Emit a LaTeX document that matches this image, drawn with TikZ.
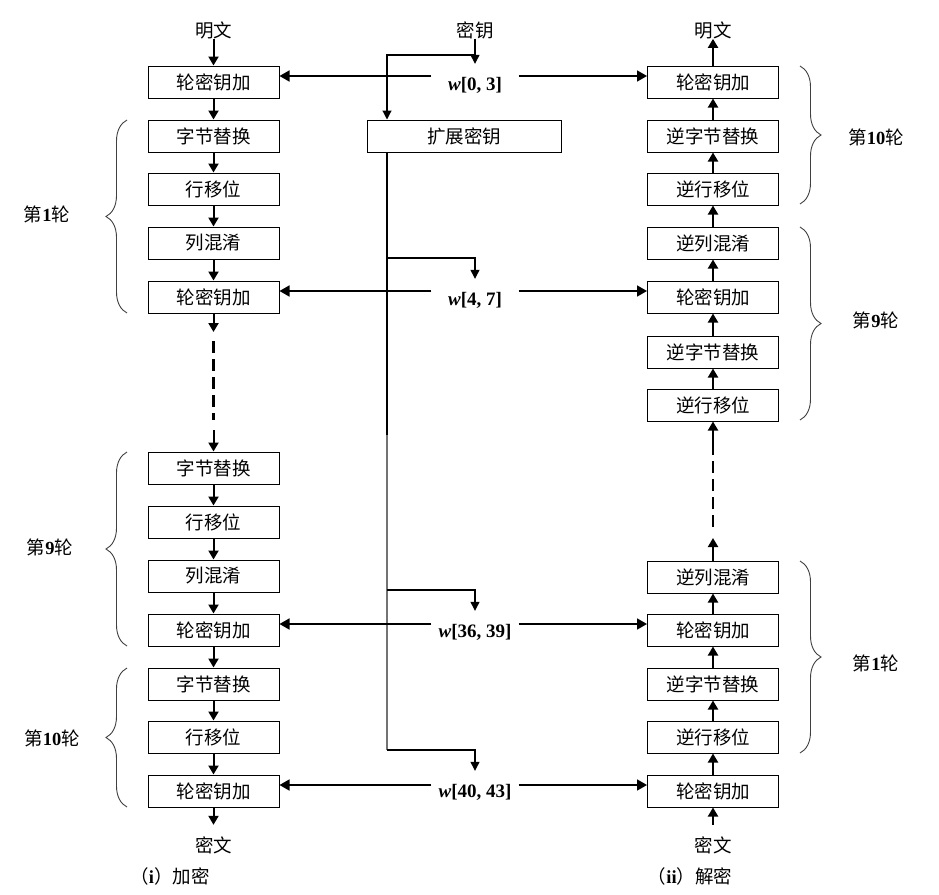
\documentclass[tikz,border=0pt]{standalone}
\usepackage{fontspec}
\setmainfont{Liberation Serif}
\newfontfamily\cjk{Noto Sans CJK SC}
\usepackage{tikz}
\usetikzlibrary{arrows.meta,positioning,decorations.pathreplacing}
\newcommand{\roundno}[1]{第{\rmfamily\bfseries #1}轮}
\newcommand{\wkey}[1]{\textbf{\textit{w}[#1]}}

\begin{document}
\begin{tikzpicture}[x=1pt, y=-1pt,
  stage/.style={draw, line width=1pt, minimum width=131pt, minimum height=32pt,
    inner sep=0pt, font=\cjk\fontsize{18.5}{20}\selectfont},
  io/.style={inner sep=0pt, minimum height=14pt, font=\cjk\fontsize{18.5}{20}\selectfont},
  wlabel/.style={minimum width=87pt, minimum height=42pt, inner sep=0pt,
    font=\fontsize{19}{20}\selectfont},
  roundlbl/.style={font=\cjk\fontsize{18.5}{20}\selectfont},
  flow/.style={-{Triangle[length=9pt,width=10pt]}, line width=2pt},
  feed/.style={-{Triangle[length=10pt,width=11pt]}, line width=1.7pt},
  keyline/.style={line width=1.2pt},
  keyarr/.style={keyline, -{Triangle[length=9pt,width=9pt]}},
  skip/.style={line width=2.6pt, dash pattern=on 12pt off 6pt},
  brc/.style={decorate, decoration={brace, amplitude=21pt}, line width=0.9pt, black!75}]
  \useasboundingbox (0,0) rectangle (939,894);

  % encryption column
  \node[io] (pl) at (213.5,30) {明文};
  \node[stage] (e1) at (213.5,82) {轮密钥加};
  \node[stage] (e2) at (213.5,136) {字节替换};
  \node[stage] (e3) at (213.5,189) {行移位};
  \node[stage] (e4) at (213.5,243) {列混淆};
  \node[stage] (e5) at (213.5,297) {轮密钥加};
  \node[stage] (e6) at (213.5,468) {字节替换};
  \node[stage] (e7) at (213.5,522) {行移位};
  \node[stage] (e8) at (213.5,576) {列混淆};
  \node[stage] (e9) at (213.5,630) {轮密钥加};
  \node[stage] (e10) at (213.5,684) {字节替换};
  \node[stage] (e11) at (213.5,737) {行移位};
  \node[stage] (e12) at (213.5,791) {轮密钥加};
  \node[io, minimum height=40pt] (cl) at (213.5,845) {密文};
  \node[io] (capl) at (170,876) {（{\rmfamily\bfseries i}）加密};

  % decryption column
  \node[io] (pr) at (713,30) {明文};
  \node[stage] (d1) at (713,82) {轮密钥加};
  \node[stage] (d2) at (713,136) {逆字节替换};
  \node[stage] (d3) at (713,189) {逆行移位};
  \node[stage] (d4) at (713,243) {逆列混淆};
  \node[stage] (d5) at (713,297) {轮密钥加};
  \node[stage] (d6) at (713,352) {逆字节替换};
  \node[stage] (d7) at (713,405) {逆行移位};
  \node[stage] (d8) at (713,577) {逆列混淆};
  \node[stage] (d9) at (713,630) {轮密钥加};
  \node[stage] (d10) at (713,684) {逆字节替换};
  \node[stage] (d11) at (713,737) {逆行移位};
  \node[stage] (d12) at (713,791) {轮密钥加};
  \node[io, minimum height=40pt] (cr) at (713,845) {密文};
  \node[io] (capr) at (690,876) {（{\rmfamily\bfseries ii}）解密};

  % key schedule
  \node[io] (key) at (475,30) {密钥};
  \node[stage, minimum width=194pt] (ex) at (464,136) {扩展密钥};
  \node[wlabel] (k0) at (475,85) {\wkey{0, 3}};
  \node[wlabel] (k1) at (475,300) {\wkey{4, 7}};
  \node[wlabel] (k2) at (475,632) {\wkey{36, 39}};
  \node[wlabel] (k3) at (475,792) {\wkey{40, 43}};

  \coordinate (split) at (475,55);
  \coordinate (bus) at (387,0);
  \coordinate (b1) at (387,258);
  \coordinate (busmid) at (387,435);
  \coordinate (b2) at (387,590);
  \coordinate (b3) at (387,750);
  \coordinate (r0) at (0,76);
  \coordinate (r1) at (0,291);
  \coordinate (r2) at (0,624);
  \coordinate (r3) at (0,785);
  \coordinate (gl1) at (213.5,332);
  \coordinate (gl2) at (213.5,341);
  \coordinate (gl3) at (213.5,420);
  \coordinate (gl4) at (213.5,430);
  \coordinate (gr1) at (713,538);
  \coordinate (gr2) at (713,527);
  \coordinate (gr3) at (713,445);

  % encryption flow
  \draw[flow] (pl) -- (e1);
  \foreach \a/\b in {e1/e2, e2/e3, e3/e4, e4/e5, e6/e7, e7/e8, e8/e9, e9/e10, e10/e11, e11/e12}
    \draw[flow] (\a) -- (\b);
  \draw[flow] (e5) -- (gl1);
  \draw[skip] (gl2) -- (gl3);
  \draw[flow] (gl4) -- (e6);
  \draw[flow] (e12) -- (cl);

  % decryption flow
  \draw[flow] (cr) -- (d12);
  \foreach \a/\b in {d12/d11, d11/d10, d10/d9, d9/d8, d7/d6, d6/d5, d5/d4, d4/d3, d3/d2, d2/d1}
    \draw[flow] (\a) -- (\b);
  \draw[flow] (d8) -- (gr1);
  \draw[skip] (gr2) -- (gr3);
  \draw[flow] (gr3) -- (d7);
  \draw[flow] (d1) -- (pr);

  % key expansion
  \draw[keyarr] (key) -- (k0);
  \draw[keyarr] (split) -| (ex.north -| bus);
  \draw[keyline] (ex.south -| bus) -- (busmid);
  \draw[keyline, black!55] (busmid) -- (b3);
  \draw[keyarr] (b1) -| (k1);
  \draw[keyarr] (b2) -| (k2);
  \draw[keyarr] (b3) -| (k3);

  % round keys
  \foreach \k/\r/\l/\d in {k0/r0/e1/d1, k1/r1/e5/d5, k2/r2/e9/d9, k3/r3/e12/d12} {
    \draw[feed] (\k.west |- \r) -- (\l.east |- \r);
    \draw[feed] (\k.east |- \r) -- (\d.west |- \r);
  }

  % rounds
  \draw[brc] (127,313) -- (127,120);
  \draw[brc] (127,646) -- (127,452);
  \draw[brc] (127,807) -- (127,668);
  \node[roundlbl] (rl1) at (47,214) {\roundno{1}};
  \node[roundlbl] (rl9) at (50,547) {\roundno{9}};
  \node[roundlbl] (rl10) at (52,738) {\roundno{10}};
  \draw[brc] (800,66) -- (800,204);
  \draw[brc] (800,227) -- (800,420);
  \draw[brc] (800,561) -- (800,753);
  \node[roundlbl] (rr10) at (876,137) {\roundno{10}};
  \node[roundlbl] (rr9) at (876,320) {\roundno{9}};
  \node[roundlbl] (rr1) at (876,663) {\roundno{1}};
\end{tikzpicture}
\end{document}
